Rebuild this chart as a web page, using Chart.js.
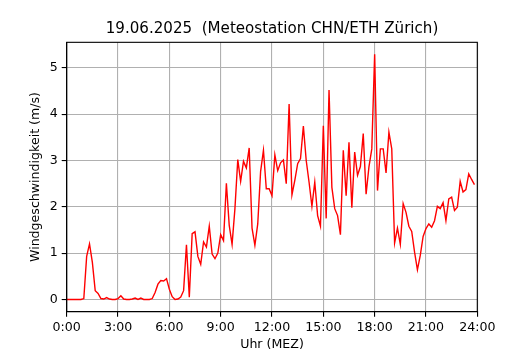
<!DOCTYPE html>
<html>
<head>
<meta charset="utf-8">
<script src="https://cdn.jsdelivr.net/npm/chart.js@4"></script>
<style>
	html, body { margin: 0; padding: 0; background: #fff; }
	#box { width: 530px; height: 350px; }
</style>
</head>
<body>
<div id="box"><canvas id="wind-canvas"></canvas></div>
<script>
// 10-minute values, 0:00 to 23:50
const windSpeed = [
	0, 0, 0, 0, 0, 0, 0.02, 0.93, 1.2, 0.8, 0.19, 0.13,
	0.02, 0.01, 0.04, 0.01, 0, 0, 0.02, 0.08, 0.01, 0, 0, 0.01,
	0.03, 0, 0.03, 0, 0, 0, 0.02, 0.15, 0.33, 0.41, 0.4, 0.45,
	0.22, 0.06, 0, 0.01, 0.05, 0.19, 1.18, 0.05, 1.42, 1.46, 0.93, 0.76,
	1.24, 1.13, 1.58, 0.98, 0.88, 1.0, 1.4, 1.27, 2.51, 1.6, 1.19, 1.96,
	3.02, 2.55, 2.98, 2.84, 3.27, 1.54, 1.17, 1.63, 2.76, 3.22, 2.39, 2.39,
	2.24, 3.12, 2.78, 2.95, 3.01, 2.5, 4.22, 2.26, 2.57, 2.93, 3.04, 3.74,
	3.0, 2.53, 2.01, 2.53, 1.81, 1.58, 3.75, 1.75, 4.52, 2.42, 1.96, 1.81,
	1.4, 3.22, 2.24, 3.39, 1.98, 3.18, 2.68, 2.87, 3.58, 2.27, 2.86, 3.25,
	5.29, 2.35, 3.25, 3.25, 2.73, 3.61, 3.25, 1.22, 1.54, 1.19, 2.07, 1.88,
	1.58, 1.47, 1.02, 0.64, 0.95, 1.36, 1.53, 1.63, 1.56, 1.7, 2.01, 1.96,
	2.09, 1.7, 2.17, 2.21, 1.92, 1.99, 2.55, 2.32, 2.37, 2.71, 2.59, 2.48,
];
const stepMinutes = 10;
const xTicks = [0, 3, 6, 9, 12, 15, 18, 21, 24];
const xTickLabels = ["0:00", "3:00", "6:00", "9:00", "12:00", "15:00", "18:00", "21:00", "24:00"];
const yTicks = [0, 1, 2, 3, 4, 5];

const points = windSpeed.map((v, i) => ({ x: (i * stepMinutes) / 60, y: v }));

Chart.defaults.font.family = "DejaVu Sans";
Chart.defaults.font.size = 12.6;
Chart.defaults.color = "#000";

// matplotlib-style box round the plot
const frame = {
	id: "frame",
	afterDatasetsDraw(chart) {
		const { ctx, chartArea: a } = chart;
		ctx.save();
		ctx.strokeStyle = "#000";
		ctx.lineWidth = 1.1;
		ctx.strokeRect(a.left, a.top, a.right - a.left, a.bottom - a.top);
		ctx.restore();
	},
};

const windChart = new Chart(document.getElementById("wind-canvas"), {
	type: "line",
	data: {
		datasets: [
			{
				data: points,
				borderColor: "#ff0000",
				borderWidth: 1.4,
				pointRadius: 0,
				tension: 0,
				fill: false,
			},
		],
	},
	options: {
		responsive: true,
		maintainAspectRatio: false,
		animation: false,
		layout: { padding: { left: 0, right: 52.7, top: 0, bottom: 0 } },
		plugins: {
			legend: { display: false },
			tooltip: { enabled: false },
			title: {
				display: true,
				fullSize: false,
				text: "19.06.2025  (Meteostation CHN/ETH Zürich)",
				color: "#000",
				font: { size: 15.1, weight: "normal", lineHeight: 1.2 },
				padding: { top: 20.5, bottom: 3.7 },
			},
		},
		scales: {
			x: {
				type: "linear",
				min: 0,
				max: 24,
				afterFit: (s) => { s.height = 38.3; },
				afterBuildTicks: (s) => { s.ticks = xTicks.map((v) => ({ value: v })); },
				ticks: {
					maxRotation: 0,
					padding: 3,
					callback: (v, i) => xTickLabels[i],
				},
				grid: { color: "#b0b0b0", lineWidth: 1.1, tickColor: "#000", tickLength: 5 },
				border: { color: "#000", width: 1.1 },
				title: {
					display: true,
					text: "Uhr (MEZ)",
					font: { size: 12.6, lineHeight: 0.85 },
					padding: { top: 0, bottom: 0 },
				},
			},
			y: {
				min: -0.264,
				max: 5.55,
				afterFit: (s) => { s.width = 66.7; },
				afterBuildTicks: (s) => { s.ticks = yTicks.map((v) => ({ value: v })); },
				ticks: { padding: 4 },
				grid: { color: "#b0b0b0", lineWidth: 1.1, tickColor: "#000", tickLength: 5 },
				border: { color: "#000", width: 1.1 },
				title: {
					display: true,
					text: "Windgeschwindigkeit (m/s)",
					font: { size: 12.6, lineHeight: 1 },
					padding: { top: 29.2, bottom: 0 },
				},
			},
		},
	},
	plugins: [frame],
});
</script>
</body>
</html>
